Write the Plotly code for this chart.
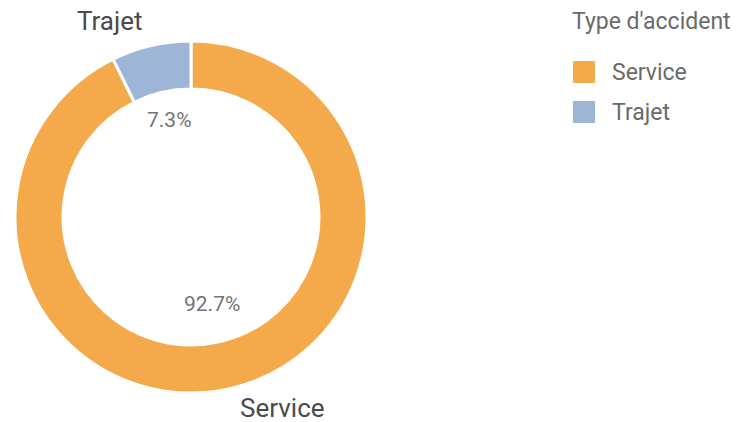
import plotly.graph_objects as go

categories = ["Service", "Trajet"]
values = [92.7, 7.3]
colors = ["#F4AA4B", "#9DB6D8"]
legend_title = "Type d'accident"

W, H = 736, 422
total = sum(values)
pcts = [f"{v / total * 100:.1f}%" for v in values]


def px(x):
    return x / W


def py(y):
    return 1 - y / H


fig = go.Figure()
fig.add_trace(go.Pie(
    labels=categories,
    values=values,
    sort=False,
    direction="clockwise",
    rotation=0,
    hole=0.727,
    marker=dict(colors=colors, line=dict(color="white", width=3)),
    textinfo="none",
    hoverinfo="label+percent",
    domain=dict(x=[px(15), px(367)], y=[py(393), py(41)]),
    showlegend=False,
))

FONT = "Roboto"
# outer category labels
fig.add_annotation(x=px(110), y=py(21), xref="paper", yref="paper",
                   text=categories[1], showarrow=False, xanchor="center", yanchor="middle",
                   font=dict(size=26, color="#4a4a4a", family=FONT))
fig.add_annotation(x=px(282), y=py(408), xref="paper", yref="paper",
                   text=categories[0], showarrow=False, xanchor="center", yanchor="middle",
                   font=dict(size=26, color="#4a4a4a", family=FONT))
# percentage labels
fig.add_annotation(x=px(169), y=py(120), xref="paper", yref="paper",
                   text=pcts[1], showarrow=False, xanchor="center", yanchor="middle",
                   font=dict(size=21, color="#747474", family=FONT))
fig.add_annotation(x=px(212), y=py(304), xref="paper", yref="paper",
                   text=pcts[0], showarrow=False, xanchor="center", yanchor="middle",
                   font=dict(size=21, color="#747474", family=FONT))

# legend (title + colour squares + labels)
fig.add_annotation(x=px(570), y=py(22), xref="paper", yref="paper",
                   text=legend_title, showarrow=False, xanchor="left", yanchor="middle",
                   font=dict(size=23, color="#6a6a6a", family=FONT))
for i, (cat, col) in enumerate(zip(categories, colors)):
    yc = 72 + 40 * i
    fig.add_shape(type="rect", xref="paper", yref="paper",
                  x0=px(573), x1=px(595), y0=py(yc - 11), y1=py(yc + 11),
                  fillcolor=col, line=dict(width=0))
    fig.add_annotation(x=px(610), y=py(yc), xref="paper", yref="paper",
                       text=cat, showarrow=False, xanchor="left", yanchor="middle",
                       font=dict(size=23, color="#6a6a6a", family=FONT))

fig.update_layout(
    width=W, height=H,
    margin=dict(l=0, r=0, t=0, b=0),
    paper_bgcolor="white",
    plot_bgcolor="white",
    font=dict(family=FONT, color="#595959"),
    showlegend=False,
)

fig.write_html("out.html",
               config={"displayModeBar": False},
               post_script="document.body.style.margin='0';document.body.style.overflow='hidden';")
